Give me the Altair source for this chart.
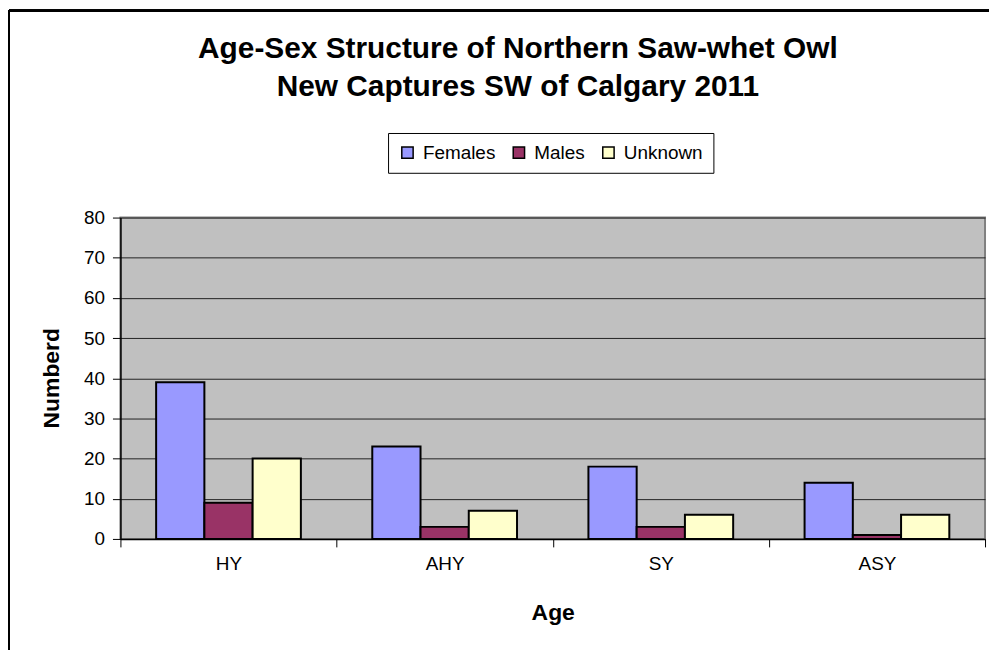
import altair as alt
import pandas as pd

ages = ["HY", "AHY", "SY", "ASY"]
series = ["Females", "Males", "Unknown"]
females = [39, 23, 18, 14]
males = [9, 3, 3, 1]
unknown = [20, 7, 6, 6]
colors = ["#9999FF", "#993366", "#FFFFCC"]

rows = []
for i, a in enumerate(ages):
    for s, vals in zip(series, [females, males, unknown]):
        rows.append({"Age": a, "Sex": s, "Count": vals[i]})
df = pd.DataFrame(rows)

FONT = "Liberation Sans"

bars = alt.Chart(df).mark_bar(stroke="black", strokeWidth=2).encode(
    x=alt.X("Age:N", sort=ages,
            scale=alt.Scale(paddingInner=0, paddingOuter=0),
            axis=alt.Axis(title="Age", labelAngle=0, tickBand="extent",
                          labelFontSize=19, labelFont=FONT, labelColor="black",
                          labelPadding=8, tickSize=8, tickColor="black",
                          domainColor="black", domainWidth=1.5,
                          titleFont=FONT, titleFontSize=23, titleFontWeight="bold",
                          titleColor="black", titleY=74, titleBaseline="middle")),
    xOffset=alt.XOffset("Sex:N", sort=series,
                        scale=alt.Scale(paddingInner=0, paddingOuter=0.74)),
    y=alt.Y("Count:Q",
            scale=alt.Scale(domain=[0, 80]),
            axis=alt.Axis(title="Numberd", values=list(range(0, 81, 10)),
                          labelFontSize=19, labelFont=FONT, labelColor="black",
                          labelPadding=8, tickSize=8, tickColor="black",
                          domainColor="black", domainWidth=1.5,
                          gridColor="#222222", gridWidth=1,
                          titleFont=FONT, titleFontSize=23, titleFontWeight="bold",
                          titleColor="black", titleX=-69, titleY=161,
                          titleAngle=-90, titleBaseline="middle", titleAlign="center")),
    color=alt.Color("Sex:N", sort=series,
                    scale=alt.Scale(domain=series, range=colors),
                    legend=alt.Legend(title=None, orient="none", direction="horizontal",
                                      legendX=269, legendY=-85, columns=3,
                                      symbolType="square", symbolSize=130,
                                      symbolStrokeColor="black", symbolStrokeWidth=1.5,
                                      labelFont=FONT, labelFontSize=19, labelColor="black",
                                      strokeColor="black", padding=10,
                                      columnPadding=14, labelOffset=6,
                                      fillColor="white")),
)

border = alt.Chart(df).mark_rule(color="black", strokeWidth=2).encode(
    x=alt.value(-112), y=alt.value(-208), y2=alt.value(450)
) + alt.Chart(df).mark_rule(color="black", strokeWidth=2).encode(
    x=alt.value(-112), x2=alt.value(880), y=alt.value(-208)
)

chart = alt.layer(bars, border).properties(
    width=869, height=323,
    padding={"left": 113, "top": 209, "right": 4, "bottom": 110},
    autosize=alt.AutoSizeParams(type="none"),
    title=alt.TitleParams(
        text=["Age-Sex Structure of Northern Saw-whet Owl", "New Captures SW of Calgary 2011"],
        font=FONT, fontSize=30, fontWeight="bold", color="black",
        anchor="middle", frame="group", dx=-35, offset=0, dy=93, lineHeight=38,
    ),
).configure(background="white").configure_view(
    fill="#C0C0C0", stroke="#808080", strokeWidth=2
)

chart.save("out.html", embed_options={"renderer": "svg", "actions": False})
